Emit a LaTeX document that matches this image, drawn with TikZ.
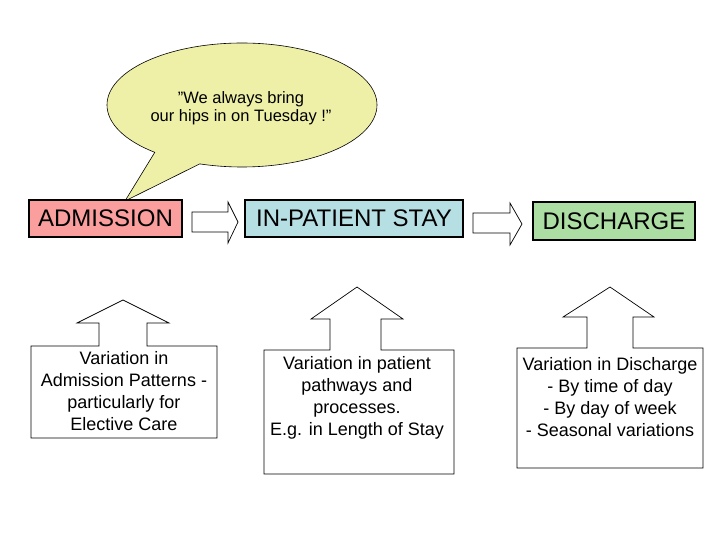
\documentclass[tikz,border=0pt]{standalone}
\usepackage{fontspec}
\setmainfont{Liberation Sans}
\usetikzlibrary{shapes.callouts}
\definecolor{admfill}{RGB}{250,158,158}
\definecolor{ipsfill}{RGB}{182,223,228}
\definecolor{disfill}{RGB}{172,221,162}
\definecolor{bubfill}{RGB}{238,240,168}
\tikzset{
  stagebox/.style={draw=black, line width=1.6pt, inner sep=0pt, font=\fontsize{24}{28}\selectfont},
  blockarrow/.style={draw=black, line width=0.7pt, fill=white},
  calloutbox/.style={draw=black, line width=0.7pt, fill=white},
  calltext/.style={align=center, inner sep=0pt, font=\fontsize{18}{22}\selectfont},
}
\begin{document}
\begin{tikzpicture}[x=1pt,y=-1pt]
\useasboundingbox (0,0) rectangle (720,540);

% speech bubble
\coordinate (tip) at (125,201);
\node[ellipse callout, draw=black, line width=0.6pt, fill=bubfill,
      minimum width=270pt, minimum height=124pt, inner sep=0pt,
      callout absolute pointer={(tip)}, callout pointer arc=22] (bubble) at (242,105) {};
\node[align=center, inner sep=0pt, font=\fontsize{16.5}{18}\selectfont] (bubtext) at (241,108)
  {\char"22 We always bring\\our hips in on Tuesday !”};

% stage boxes
\node[stagebox, fill=admfill, minimum width=153pt, minimum height=37pt] (adm) at (105.5,218.5) {ADMISSION};
\node[stagebox, fill=ipsfill, minimum width=218pt, minimum height=37pt] (ips) at (354,218.5) {IN-PATIENT STAY};
\node[stagebox, fill=disfill, minimum width=162pt, minimum height=38pt] (dis) at (614,221) {DISCHARGE};

% block arrows between stages
\draw[blockarrow] (192,212) -- (228,212) -- (228,202) -- (238,222) -- (228,243) -- (228,232) -- (192,232) -- cycle;
\draw[blockarrow] (473,213) -- (510,213) -- (510,203) -- (522,224) -- (510,245) -- (510,233) -- (473,233) -- cycle;

% callout 1
\draw[calloutbox] (31,438) -- (217,438) -- (217,346) -- (147,346) -- (147,323) -- (169,323) -- (123,300)
  -- (77,323) -- (99,323) -- (99,346) -- (31,346) -- cycle;
\node[calltext] (t1) at (124,391) {Variation in\\Admission Patterns -\\particularly for\\Elective Care};

% callout 2
\draw[calloutbox] (264,474) -- (454,474) -- (454,350) -- (381,350) -- (381,319) -- (403,319) -- (357,287)
  -- (311,319) -- (330,319) -- (330,350) -- (264,350) -- cycle;
\node[calltext] (t2) at (357,398) {Variation in patient\\pathways and\\processes.\\E.g. in Length of Stay};

% callout 3
\draw[calloutbox] (517,468) -- (703,468) -- (703,348) -- (633,348) -- (633,317) -- (654,317) -- (610,287)
  -- (563,317) -- (587,317) -- (587,348) -- (517,348) -- cycle;
\node[calltext] (t3) at (610,397) {Variation in Discharge\\- By time of day\\- By day of week\\- Seasonal variations};
\end{tikzpicture}
\end{document}
